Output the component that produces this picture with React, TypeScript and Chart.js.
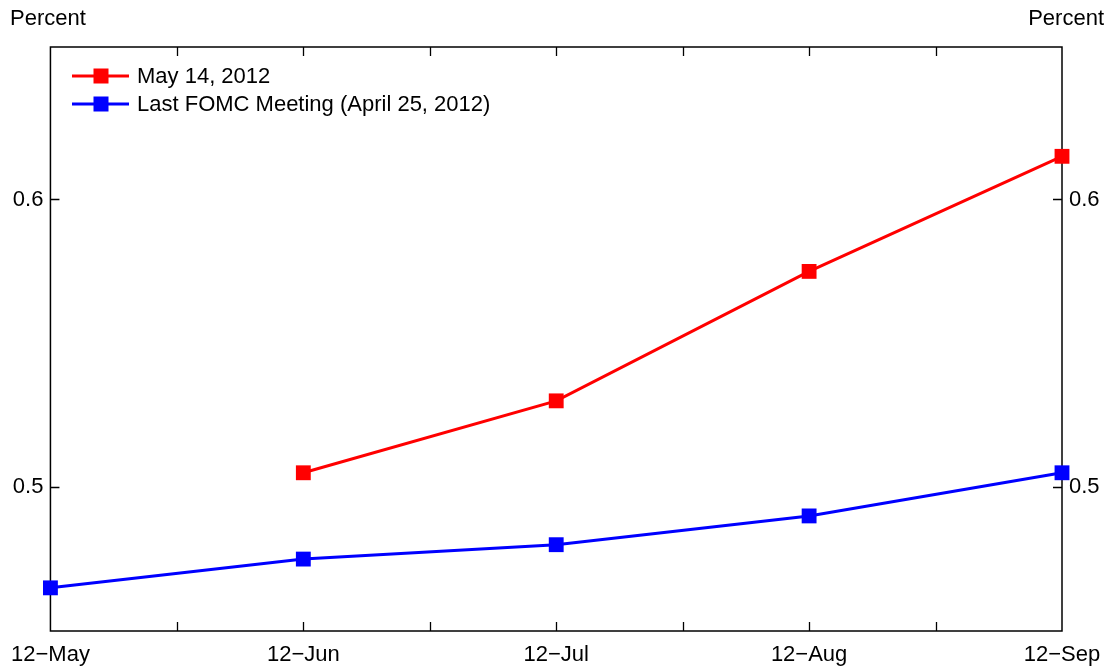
import React, { useEffect, useRef } from "react";
import { Chart, registerables } from "chart.js";
Chart.register(...registerables);

const months = ["12\u2212May", "12\u2212Jun", "12\u2212Jul", "12\u2212Aug", "12\u2212Sep"];
const may14: (number | null)[] = [null, 0.505, 0.53, 0.575, 0.615];
const lastFomc: number[] = [0.465, 0.475, 0.48, 0.49, 0.505];
const yTicks = [0.5, 0.6];
const seriesLabels = ["May 14, 2012", "Last FOMC Meeting (April 25, 2012)"];
const seriesColors = ["#ff0000", "#0000ff"];
const axisTitle = "Percent";

const FONT = "'Liberation Sans', Arial, Helvetica, sans-serif";

const framePlugin = {
  id: "frame",
  beforeDatasetsDraw(chart: any) {
    const { ctx, chartArea } = chart;
    const { left, right, top, bottom } = chartArea;
    const xs = chart.scales.x;
    const ys = chart.scales.y;
    ctx.save();
    ctx.strokeStyle = "#000";
    ctx.lineWidth = 1.5;
    ctx.strokeRect(left, top, right - left, bottom - top);
    ctx.lineWidth = 1.3;
    ctx.strokeStyle = "#000";
    const L = 9;
    for (let v = 0.5; v < months.length - 1; v += 0.5) {
      const px = Math.round(xs.getPixelForValue(v)) + 0.5;
      ctx.beginPath();
      ctx.moveTo(px, bottom);
      ctx.lineTo(px, bottom - L);
      ctx.moveTo(px, top);
      ctx.lineTo(px, top + L);
      ctx.stroke();
    }
    for (const t of yTicks) {
      const py = Math.round(ys.getPixelForValue(t)) + 0.5;
      ctx.beginPath();
      ctx.moveTo(left, py);
      ctx.lineTo(left + L, py);
      ctx.moveTo(right, py);
      ctx.lineTo(right - L, py);
      ctx.stroke();
    }
    ctx.restore();
  },
  afterDraw(chart: any) {
    const { ctx } = chart;
    ctx.save();
    ctx.fillStyle = "#000";
    ctx.font = `22px ${FONT}`;
    ctx.textBaseline = "middle";
    ctx.textAlign = "left";
    ctx.fillText(axisTitle, 10, 19);
    ctx.textAlign = "right";
    ctx.fillText(axisTitle, 1104, 19);
    // legend
    const rows = [76, 104];
    seriesLabels.forEach((lab, i) => {
      const y = rows[i];
      ctx.strokeStyle = seriesColors[i];
      ctx.lineWidth = 3;
      ctx.beginPath();
      ctx.moveTo(72, y);
      ctx.lineTo(129, y);
      ctx.stroke();
      ctx.fillStyle = seriesColors[i];
      ctx.fillRect(101 - 7.5, y - 7.5, 15, 15);
      ctx.fillStyle = "#000";
      ctx.textAlign = "left";
      ctx.fillText(lab, 137, y + 1);
    });
    ctx.restore();
  },
};

export default function App() {
  const ref = useRef<HTMLCanvasElement | null>(null);
  useEffect(() => {
    if (!ref.current) return;
    const tickFont = { family: FONT, size: 22 };
    const chart = new Chart(ref.current, {
      type: "line",
      data: {
        labels: months,
        datasets: [
          {
            label: seriesLabels[0],
            data: may14.map((v, i) => ({ x: i, y: v })) as any,
            borderColor: seriesColors[0],
            backgroundColor: seriesColors[0],
            borderWidth: 3,
            pointStyle: "rect",
            pointRadius: 10.5,
            pointBorderWidth: 0,
            pointHoverRadius: 10.5,
            clip: false as any,
          },
          {
            label: seriesLabels[1],
            data: lastFomc.map((v, i) => ({ x: i, y: v })) as any,
            borderColor: seriesColors[1],
            backgroundColor: seriesColors[1],
            borderWidth: 3,
            pointStyle: "rect",
            pointRadius: 10.5,
            pointBorderWidth: 0,
            pointHoverRadius: 10.5,
            clip: false as any,
          },
        ],
      },
      options: {
        animation: false,
        responsive: false,
        maintainAspectRatio: false,
        layout: { padding: { top: 47, left: 0, right: 0, bottom: 0 } },
        plugins: { legend: { display: false }, tooltip: { enabled: false } },
        scales: {
          x: {
            type: "linear",
            position: "bottom",
            min: 0,
            max: months.length - 1,
            grid: { display: false, drawTicks: false },
            border: { display: false },
            afterBuildTicks: (s: any) => {
              s.ticks = months.map((_, i) => ({ value: i }));
            },
            afterFit: (s: any) => {
              s.height = 40;
            },
            ticks: {
              autoSkip: false,
              maxRotation: 0,
              color: "#000",
              font: tickFont,
              padding: 11,
              callback: (v: any) => months[Math.round(Number(v))] ?? "",
            },
          },
          y: {
            type: "linear",
            position: "left",
            min: 0.45,
            max: 0.653,
            grid: { display: false, drawTicks: false },
            border: { display: false },
            afterBuildTicks: (s: any) => {
              s.ticks = yTicks.map((v) => ({ value: v }));
            },
            afterFit: (s: any) => {
              s.width = 50;
            },
            ticks: {
              color: "#000",
              font: tickFont,
              padding: 7,
              callback: (v: any) => String(Number(v)),
            },
          },
          y2: {
            type: "linear",
            position: "right",
            min: 0.45,
            max: 0.653,
            grid: { display: false, drawTicks: false },
            border: { display: false },
            afterBuildTicks: (s: any) => {
              s.ticks = yTicks.map((v) => ({ value: v }));
            },
            afterFit: (s: any) => {
              s.width = 51;
            },
            ticks: {
              color: "#000",
              font: tickFont,
              padding: 7,
              callback: (v: any) => String(Number(v)),
            },
          },
        },
      },
      plugins: [framePlugin],
    } as any);
    return () => chart.destroy();
  }, []);
  return (
    <div style={{ position: "fixed", left: 0, top: 0, width: 1113, height: 671, background: "#fff" }}>
      <canvas ref={ref} width={1113} height={671} style={{ width: 1113, height: 671, display: "block" }} />
    </div>
  );
}
